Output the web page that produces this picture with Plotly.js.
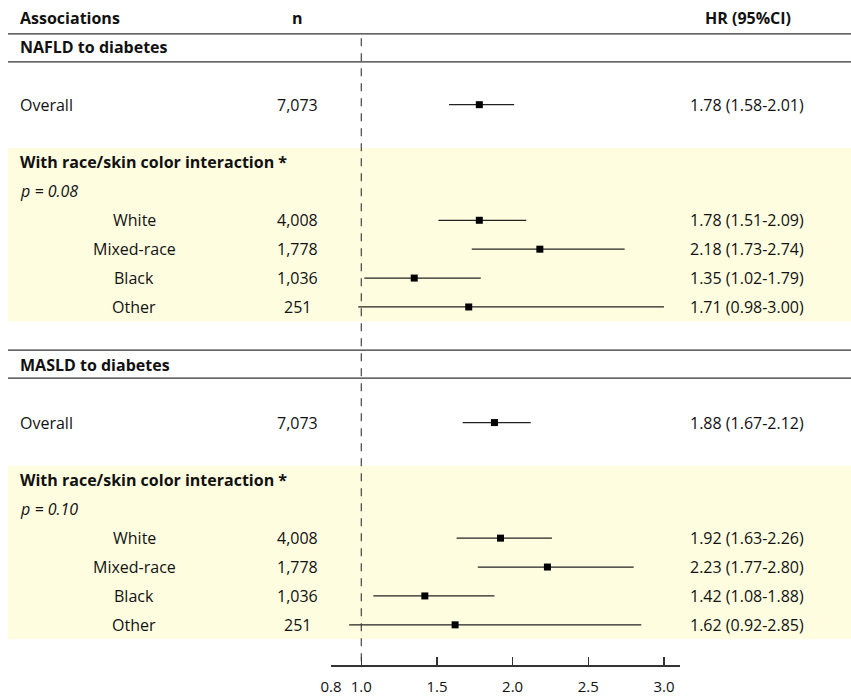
<!DOCTYPE html>
<html>
<head>
<meta charset="utf-8">
<script src="https://cdn.plot.ly/plotly-3.0.1.min.js"></script>
<style>html,body{margin:0;padding:0;background:#fff;}#chart{width:851px;height:697px;}</style>
</head>
<body>
<div id="chart"></div>
<script>
// ---- data ----
const rowLabels = ["Overall", "White", "Mixed-race", "Black", "Other"];
const rowN = ["7,073", "4,008", "1,778", "1,036", "251"];
const naflHR = [1.78, 1.78, 2.18, 1.35, 1.71];
const naflLo = [1.58, 1.51, 1.73, 1.02, 0.98];
const naflHi = [2.01, 2.09, 2.74, 1.79, 3.00];
const masldHR = [1.88, 1.92, 2.23, 1.42, 1.62];
const masldLo = [1.67, 1.63, 1.77, 1.08, 0.92];
const masldHi = [2.12, 2.26, 2.80, 1.88, 2.85];
const sections = ["NAFLD to diabetes", "MASLD to diabetes"];
const pValues = ["p = 0.08", "p = 0.10"];
const tickVals = [0.8, 1.0, 1.5, 2.0, 2.5, 3.0];
const tickText = ["0.8", "1.0", "1.5", "2.0", "2.5", "3.0"];

// ---- row positions (row index units) ----
const W = 851;
const FONT = "Open Sans, Noto Sans, sans-serif";
const rowsNAFLD = [3, 7, 8, 9, 10];
const rowsMASLD = [14, 18, 19, 20, 21];

const fmt = v => v.toFixed(2);
function hrText(h, l, u) { return fmt(h) + " (" + fmt(l) + "-" + fmt(u) + ")"; }

const traces = [];
function addForest(ys, hr, lo, hi) {
  traces.push({
    type: "scatter", mode: "markers",
    x: hr, y: ys,
    xaxis: "x", yaxis: "y",
    marker: {symbol: "square", size: 7, color: "#000"},
    error_x: {
      type: "data", symmetric: false,
      array: hr.map((h, i) => hi[i] - h),
      arrayminus: hr.map((h, i) => h - lo[i]),
      width: 0, thickness: 1.3, color: "#222"
    },
    cliponaxis: false, hoverinfo: "skip", showlegend: false
  });
}
addForest(rowsNAFLD, naflHR, naflLo, naflHi);
addForest(rowsMASLD, masldHR, masldLo, masldHi);

const ann = [];
function txt(xpx, y, text, anchor, opts) {
  ann.push(Object.assign({
    xref: "paper", yref: "y", x: xpx / W, y: y, text: text,
    xanchor: anchor, yanchor: "middle", showarrow: false,
    font: {family: FONT, size: 16, color: "#111"}
  }, opts || {}));
}
// header
txt(18, 0, "<b>Associations</b>", "left");
txt(297, 0, "<b>n</b>", "center");
txt(748, 0, "<b>HR (95%CI)</b>", "center");

function addSection(s, rows, hr, lo, hi) {
  const base = rows[0] - 3;
  txt(18, base + 1, "<b>" + sections[s] + "</b>", "left");
  txt(18, rows[0], rowLabels[0], "left");
  txt(297, rows[0], rowN[0], "center");
  txt(747, rows[0], hrText(hr[0], lo[0], hi[0]), "center");
  txt(18, base + 5, "<b>With race/skin color interaction *</b>", "left");
  txt(18, base + 6, "<i>" + pValues[s] + "</i>", "left");
  for (let i = 1; i < rows.length; i++) {
    txt(134, rows[i], rowLabels[i], "center");
    txt(297, rows[i], rowN[i], "center");
    txt(747, rows[i], hrText(hr[i], lo[i], hi[i]), "center");
  }
}
addSection(0, rowsNAFLD, naflHR, naflLo, naflHi);
addSection(1, rowsMASLD, masldHR, masldLo, masldHi);

const shapes = [];
// shaded bands
[[4.5, 10.5], [15.5, 21.5]].forEach(b => shapes.push({
  type: "rect", xref: "paper", yref: "y", x0: 8 / W, x1: 1, y0: b[0], y1: b[1],
  fillcolor: "#FFFDE0", line: {width: 0}, layer: "below"
}));
// horizontal rules
[0.55, 1.52, 11.49, 12.46].forEach(y => shapes.push({
  type: "line", xref: "paper", yref: "y", x0: 8 / W, x1: 1, y0: y, y1: y,
  line: {color: "#333", width: 1.3}, layer: "above"
}));
// reference line at HR = 1
shapes.push({
  type: "line", xref: "x", yref: "y", x0: 1, x1: 1, y0: 0.7, y1: 22.39,
  line: {color: "#333", width: 1.1, dash: "8px,7px"}, layer: "above"
});

const layout = {
  width: 851, height: 697,
  margin: {l: 0, r: 0, t: 0, b: 32, pad: 0},
  paper_bgcolor: "#fff", plot_bgcolor: "rgba(0,0,0,0)",
  showlegend: false,
  xaxis: {
    domain: [331 / W, 680 / W], range: [0.8, 3.106],
    tickvals: tickVals, ticktext: tickText,
    ticks: "inside", ticklen: 8, tickwidth: 1.3, tickcolor: "#333",
    showline: true, linecolor: "#333", linewidth: 1.5,
    showgrid: false, zeroline: false, fixedrange: true,
    tickfont: {family: FONT, size: 15, color: "#111"},
    ticklabelstandoff: 7
  },
  yaxis: {
    domain: [0, 1], range: [22.39, -0.623],
    visible: false, showgrid: false, zeroline: false, fixedrange: true
  },
  annotations: ann,
  shapes: shapes
};
Plotly.newPlot("chart", traces, layout, {staticPlot: true, displayModeBar: false});
</script>
</body>
</html>
